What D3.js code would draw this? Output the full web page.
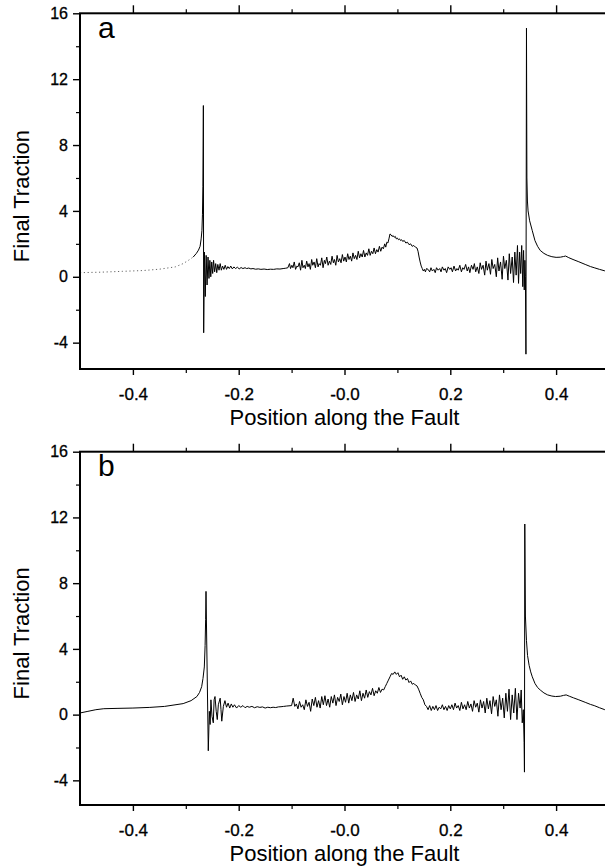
<!DOCTYPE html>
<html><head><meta charset="utf-8">
<script src="https://cdn.jsdelivr.net/npm/d3@7/dist/d3.min.js"></script>
<style>
html,body{margin:0;padding:0;background:#fff;}
svg text{font-family:"Liberation Sans",Arial,Helvetica,sans-serif;fill:#000;}
</style></head>
<body><svg id="chart" width="605" height="867"></svg>
<script>
// ---------- data ----------
const xTicks = [-0.4, -0.2, 0, 0.2, 0.4];
const xTickLabels = ["-0.4", "-0.2", "-0.0", "0.2", "0.4"];
const xMinorTicks = [-0.3, -0.1, 0.1, 0.3];
const yTicks = [-4, 0, 4, 8, 12, 16];
const yMinorTicks = [-2, 2, 6, 10, 14];
const panelLetters = ["a", "b"];
const xTitle = "Position along the Fault";
const yTitle = "Final Traction";

// panel a: faint (dotted) part left of the first crack tip
const tractionA_left = [[-0.5,0.25],[-0.46,0.28],[-0.42,0.33],[-0.38,0.38],[-0.35,0.46],[-0.32,0.6],[-0.305,0.8],[-0.295,1.0],[-0.286,1.2]];
// panel a: solid trace
const tractionA_main = [[-0.286,1.2],[-0.28,1.42],[-0.276,1.62],[-0.273,1.85],[-0.271,2.3],[-0.2695,2.8],[-0.2685,3.8],[-0.2677,5.5],[-0.2672,8],[-0.2668,10.4],
[-0.2662,-3.4],[-0.2648,1.5],[-0.2632,-1.2],[-0.2615,1.3],[-0.2598,-0.5],[-0.258,1.2],[-0.2562,-0.1],[-0.2545,1.0],[-0.2528,0.0],[-0.251,0.9],[-0.2492,0.2],[-0.2475,1.0],[-0.2455,0.3],[-0.2435,0.8],[-0.2415,0.25],[-0.2395,0.75],[-0.2372,0.4],[-0.235,0.8],[-0.2328,0.4],[-0.2305,0.65],[-0.228,0.45],[-0.2255,0.7],[-0.223,0.45],[-0.2205,0.62],[-0.2178,0.5],[-0.215,0.65],[-0.212,0.48],[-0.209,0.6],[-0.206,0.5],[-0.2025,0.58],[-0.199,0.48],[-0.1955,0.56],[-0.192,0.5],[-0.188,0.55],[-0.185,0.5],[-0.181,0.53],[-0.177,0.48],[-0.173,0.5],[-0.168,0.46],[-0.163,0.48],[-0.158,0.45],[-0.152,0.47],[-0.146,0.44],[-0.14,0.46],[-0.134,0.45],[-0.128,0.48],[-0.122,0.47],[-0.116,0.5],[-0.111,0.52],[-0.107,0.55],
[-0.104,0.8],[-0.102,0.5],[-0.0995,0.7],[-0.0975,0.55],[-0.095,0.9],[-0.0925,0.45],[-0.09,0.65],[-0.088,0.6],[-0.0855,0.85],[-0.083,0.4],[-0.0805,1.0],[-0.0785,0.55],[-0.076,0.7],[-0.074,0.5],[-0.0715,0.95],[-0.069,0.6],[-0.067,0.8],[-0.0645,0.45],[-0.062,1.05],[-0.06,0.7],[-0.0575,0.9],[-0.055,0.55],[-0.0525,1.1],[-0.05,0.6],[-0.048,0.8],[-0.0455,0.7],[-0.043,1.15],[-0.0405,0.55],[-0.038,1.0],[-0.036,0.8],[-0.0335,1.2],[-0.031,0.7],[-0.0285,0.95],[-0.026,0.75],[-0.0235,1.25],[-0.021,0.85],[-0.019,1.05],[-0.0165,0.7],[-0.014,1.3],[-0.0115,0.9],[-0.009,1.1],[-0.0065,0.85],[-0.004,1.35],[-0.0015,0.95],[0.001,1.2],[0.0035,0.9],[0.006,1.4],[0.0085,1.05],[0.011,1.25],[0.0135,0.95],[0.016,1.45],[0.0185,1.1],[0.021,1.3],[0.0235,1.05],[0.026,1.55],[0.0285,1.15],[0.031,1.4],[0.0335,1.2],[0.036,1.6],[0.0385,1.2],[0.041,1.45],[0.0435,1.3],[0.046,1.7],[0.0485,1.3],[0.051,1.55],[0.0535,1.4],[0.056,1.75],[0.0585,1.4],[0.061,1.65],[0.0635,1.5],[0.066,1.85],[0.0685,1.55],[0.071,1.8],[0.0735,1.7],[0.076,2.0],[0.078,1.8],[0.08,2.1],[0.082,2.05],[0.084,2.3],[0.086,2.6],
[0.088,2.55],[0.09,2.45],[0.092,2.5],[0.094,2.4],[0.096,2.45],[0.098,2.3],[0.1,2.35],[0.102,2.25],[0.104,2.3],[0.106,2.2],[0.108,2.25],[0.11,2.15],[0.113,2.2],[0.116,2.05],[0.119,2.1],[0.122,1.95],[0.125,2.0],[0.128,1.85],[0.131,1.9],[0.134,1.8],[0.137,1.75],[0.139,1.55],[0.141,1.2],[0.143,0.9],[0.145,0.65],[0.147,0.5],[0.149,0.35],[0.151,0.45],[0.153,0.3],[0.155,0.5],
[0.158,0.45],[0.161,0.3],[0.1635,0.55],[0.166,0.35],[0.169,0.45],[0.1715,0.25],[0.174,0.55],[0.177,0.4],[0.18,0.5],[0.1825,0.3],[0.185,0.6],[0.188,0.4],[0.1905,0.5],[0.193,0.25],[0.196,0.6],[0.199,0.45],[0.2015,0.55],[0.204,0.3],[0.207,0.65],[0.21,0.35],[0.2125,0.5],[0.215,0.4],[0.218,0.7],[0.221,0.3],[0.2235,0.55],[0.226,0.45],[0.229,0.75],[0.232,0.35],[0.2345,0.6],[0.237,0.25],[0.24,0.7],[0.243,0.45],[0.2455,0.8],[0.248,0.3],[0.251,0.6],[0.254,0.2],[0.2565,0.85],[0.259,0.45],[0.262,0.7],[0.265,0.1],[0.2675,0.95],[0.27,0.4],[0.273,0.8],[0.276,0.15],[0.2785,1.05],[0.281,0.5],[0.284,0.75],[0.287,0.0],[0.2895,1.15],[0.292,0.35],[0.295,0.9],[0.298,-0.15],[0.3005,1.25],[0.303,0.5],[0.306,1.0],[0.309,-0.2],[0.3115,1.4],[0.314,0.2],[0.317,1.2],[0.3195,-0.35],[0.322,1.5],[0.3245,0.1],[0.327,1.9],[0.329,-0.4],[0.331,1.5],[0.333,0.2],[0.335,1.9],[0.337,-0.6],[0.3385,1.6],[0.3398,-0.8],[0.341,1.0],[0.342,0.0],[0.343,-4.7],[0.344,15.1],
[0.3448,6.0],[0.3458,4.6],[0.347,4.0],[0.35,3.4],[0.355,2.8],[0.36,2.2],[0.365,1.85],[0.37,1.6],[0.377,1.42],[0.384,1.3],[0.392,1.22],[0.4,1.18],[0.408,1.19],[0.414,1.23],[0.418,1.26],[0.424,1.16],[0.432,1.05],[0.443,0.91],[0.455,0.75],[0.465,0.62],[0.472,0.55],[0.482,0.45],[0.492,0.36],[0.5,0.3]];

// panel b: full trace
const tractionB = [[-0.5,0.1],[-0.485,0.2],[-0.47,0.3],[-0.455,0.36],[-0.43,0.38],[-0.4,0.4],[-0.368,0.44],[-0.34,0.5],[-0.305,0.67],[-0.29,0.85],[-0.279,1.1],[-0.274,1.35],[-0.27,1.7],[-0.2675,2.2],[-0.265,2.9],[-0.2635,4.2],[-0.2625,5.8],[-0.2618,7.5],
[-0.2575,-2.2],[-0.2555,0.2],[-0.254,-0.6],[-0.2525,0.9],[-0.2505,-0.1],[-0.248,-0.5],[-0.2465,0.9],[-0.2448,1.1],[-0.2425,0.2],[-0.2405,-0.3],[-0.2385,0.6],[-0.235,1.0],[-0.2335,0.3],[-0.232,-0.4],[-0.229,0.5],[-0.226,0.85],[-0.223,0.45],[-0.22,0.7],[-0.217,0.4],[-0.214,0.65],[-0.211,0.45],[-0.208,0.6],[-0.204,0.4],[-0.2,0.55],[-0.196,0.45],[-0.192,0.55],[-0.188,0.42],[-0.184,0.5],[-0.18,0.45],[-0.175,0.5],[-0.17,0.42],[-0.165,0.48],[-0.16,0.44],[-0.155,0.47],[-0.15,0.4],[-0.145,0.45],[-0.14,0.42],[-0.135,0.45],[-0.13,0.43],[-0.125,0.47],[-0.12,0.48],[-0.115,0.5],[-0.11,0.52],[-0.1,0.55],
[-0.097,1.0],[-0.094,0.5],[-0.091,0.65],[-0.088,0.35],[-0.085,0.8],[-0.082,0.45],[-0.079,0.6],[-0.076,0.3],[-0.073,0.9],[-0.07,0.5],[-0.067,0.75],[-0.064,0.2],[-0.061,0.95],[-0.058,0.55],[-0.055,1.05],[-0.052,0.45],[-0.049,0.85],[-0.046,0.4],[-0.043,1.1],[-0.04,0.6],[-0.037,1.15],[-0.034,0.55],[-0.031,0.95],[-0.028,0.45],[-0.025,1.1],[-0.022,0.7],[-0.019,1.2],[-0.016,0.55],[-0.013,1.05],[-0.01,0.8],[-0.007,1.25],[-0.004,0.6],[-0.001,1.1],[0.002,0.75],[0.005,1.3],[0.008,0.7],[0.011,1.2],[0.014,0.85],[0.017,1.35],[0.02,0.8],[0.023,1.2],[0.026,0.95],[0.029,1.45],[0.032,0.85],[0.035,1.3],[0.038,1.0],[0.041,1.5],[0.044,1.05],[0.047,1.4],[0.05,1.2],[0.053,1.6],[0.056,1.15],[0.059,1.45],[0.062,1.3],[0.065,1.65],[0.068,1.35],[0.071,1.55],[0.074,1.5],[0.077,1.7],[0.08,1.9],[0.083,2.1],[0.086,2.3],[0.089,2.5],[0.092,2.45],[0.095,2.6],[0.098,2.45],[0.101,2.55],[0.104,2.3],[0.107,2.4],[0.11,2.15],[0.113,2.3],[0.116,2.1],[0.119,2.2],[0.122,1.95],[0.125,2.05],[0.128,1.85],[0.131,1.9],[0.134,1.8],[0.137,1.75],[0.14,1.55],[0.143,1.3],[0.146,1.05],[0.149,0.9],[0.152,0.6],[0.155,0.5],[0.158,0.3],
[0.161,0.55],[0.164,0.25],[0.167,0.5],[0.17,0.3],[0.173,0.55],[0.176,0.25],[0.179,0.45],[0.182,0.35],[0.185,0.6],[0.188,0.3],[0.191,0.5],[0.194,0.25],[0.197,0.55],[0.2,0.35],[0.203,0.6],[0.206,0.3],[0.209,0.7],[0.212,0.4],[0.215,0.55],[0.218,0.25],[0.221,0.75],[0.224,0.35],[0.227,0.6],[0.23,0.3],[0.233,0.8],[0.236,0.4],[0.239,0.65],[0.242,0.2],[0.245,0.85],[0.248,0.45],[0.251,0.7],[0.254,0.15],[0.257,0.9],[0.26,0.4],[0.263,0.8],[0.266,0.1],[0.269,1.0],[0.272,0.35],[0.275,0.85],[0.278,0.05],[0.281,1.1],[0.284,0.5],[0.287,0.9],[0.29,-0.1],[0.293,1.2],[0.296,0.3],[0.299,1.0],[0.302,-0.2],[0.305,1.3],[0.308,0.2],[0.311,1.55],[0.314,-0.3],[0.317,1.2],[0.32,0.1],[0.323,1.6],[0.326,-0.3],[0.329,1.3],[0.332,0.4],[0.334,1.5],[0.336,-0.5],[0.338,0.3],[0.3395,-1.7],[0.3402,-3.5],[0.3408,11.6],
[0.342,6.0],[0.344,4.5],[0.346,3.6],[0.349,3.0],[0.352,2.6],[0.355,2.3],[0.36,1.9],[0.365,1.65],[0.37,1.5],[0.377,1.32],[0.384,1.2],[0.392,1.13],[0.399,1.1],[0.408,1.12],[0.414,1.17],[0.419,1.2],[0.425,1.12],[0.433,1.02],[0.443,0.9],[0.455,0.75],[0.465,0.62],[0.472,0.55],[0.482,0.42],[0.492,0.3],[0.5,0.25]];

// ---------- drawing ----------
const svg = d3.select("#chart");
const xLeft = 80, xRight = 609;
const x = d3.scaleLinear().domain([-0.5, 0.5]).range([xLeft, xRight]);

const panels = [
  {top: 13.3, bottom: 369, yMin: -5.6, letter: panelLetters[0], series: [
      {data: tractionA_left, dash: "1.2,2.6", color: "#666", width: 1},
      {data: tractionA_main, dash: null, color: "#000", width: 1}]},
  {top: 451.7, bottom: 805, yMin: -5.5, letter: panelLetters[1], series: [
      {data: tractionB, dash: null, color: "#000", width: 1}]}
];

panels.forEach((p, i) => {
  const y = d3.scaleLinear().domain([p.yMin, 16]).range([p.bottom, p.top]);
  const g = svg.append("g");

  const cid = "clip" + i;
  svg.append("clipPath").attr("id", cid).append("rect")
     .attr("x", xLeft).attr("y", p.top).attr("width", xRight - xLeft).attr("height", p.bottom - p.top);

  const line = d3.line().x(d => x(d[0])).y(d => y(d[1]));
  p.series.forEach(s => {
    g.append("path").datum(s.data).attr("d", line)
     .attr("fill", "none").attr("stroke", s.color).attr("stroke-width", s.width)
     .attr("stroke-linejoin", "round")
     .attr("stroke-dasharray", s.dash).attr("clip-path", `url(#${cid})`);
  });

  const yAx = g.append("g").attr("transform", `translate(${xLeft},0)`)
    .call(d3.axisLeft(y).tickValues(yTicks).tickSize(7).tickPadding(5).tickFormat(d => String(d)));
  yAx.select(".domain").remove();
  yAx.selectAll("line").attr("stroke-width", 1.4);
  yAx.selectAll("text").attr("font-size", 16).attr("fill", "#000")
     .attr("stroke", "#000").attr("stroke-width", 0.3);
  const yAxMinor = g.append("g").attr("transform", `translate(${xLeft},0)`)
    .call(d3.axisLeft(y).tickValues(yMinorTicks).tickSize(4).tickFormat(""));
  yAxMinor.select(".domain").remove();
  yAxMinor.selectAll("line").attr("stroke-width", 1.2);

  const xAx = g.append("g").attr("transform", `translate(0,${p.bottom})`)
    .call(d3.axisBottom(x).tickValues(xTicks).tickSize(6).tickPadding(13).tickFormat((d, k) => xTickLabels[k]));
  xAx.select(".domain").remove();
  xAx.selectAll("line").attr("stroke-width", 1.4);
  xAx.selectAll("text").attr("font-size", 17).attr("fill", "#000")
     .attr("stroke", "#000").attr("stroke-width", 0.3);
  const xAxMinor = g.append("g").attr("transform", `translate(0,${p.bottom})`)
    .call(d3.axisBottom(x).tickValues(xMinorTicks).tickSize(4).tickFormat(""));
  xAxMinor.select(".domain").remove();
  xAxMinor.selectAll("line").attr("stroke-width", 1.2);

  const tAx = g.append("g").attr("transform", `translate(0,${p.top})`)
    .call(d3.axisTop(x).tickValues(xTicks).tickSize(8).tickFormat(""));
  tAx.select(".domain").remove();
  tAx.selectAll("line").attr("stroke-width", 1.4);
  const tAxMinor = g.append("g").attr("transform", `translate(0,${p.top})`)
    .call(d3.axisTop(x).tickValues(xMinorTicks).tickSize(4).tickFormat(""));
  tAxMinor.select(".domain").remove();
  tAxMinor.selectAll("line").attr("stroke-width", 1.2);

  g.append("rect").attr("x", xLeft).attr("y", p.top)
    .attr("width", xRight - xLeft).attr("height", p.bottom - p.top)
    .attr("fill", "none").attr("stroke", "#000").attr("stroke-width", 2);

  g.append("text").attr("x", 98).attr("y", p.top + 24.5)
    .attr("font-size", 30).text(p.letter);

  g.append("text").attr("x", x(0)).attr("y", p.bottom + 56)
    .attr("text-anchor", "middle").attr("font-size", 22).text(xTitle);
  const cy = (p.top + p.bottom) / 2 + 5;
  g.append("text").attr("transform", `translate(29,${cy}) rotate(-90)`)
    .attr("text-anchor", "middle").attr("font-size", 22).text(yTitle);
});
</script></body></html>
